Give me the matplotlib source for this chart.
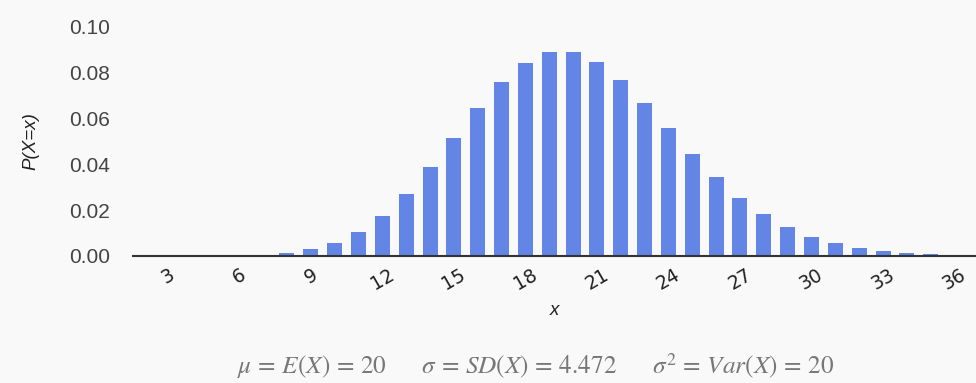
import matplotlib
matplotlib.use("Agg")
import matplotlib.pyplot as plt

# values (x, P(X=x))
x_values = list(range(1, 37))
probabilities = [
    0.0000, 0.0000, 0.0000, 0.0000, 0.0001, 0.0002, 0.0005, 0.0013, 0.0029, 0.0058,
    0.0106, 0.0176, 0.0271, 0.0387, 0.0516, 0.0646, 0.0760, 0.0844, 0.0888, 0.0888,
    0.0846, 0.0769, 0.0669, 0.0557, 0.0446, 0.0343, 0.0254, 0.0181, 0.0125, 0.0083,
    0.0054, 0.0034, 0.0020, 0.0012, 0.0007, 0.0004,
]
x_ticks = [3, 6, 9, 12, 15, 18, 21, 24, 27, 30, 33, 36]
y_ticks = [0.00, 0.02, 0.04, 0.06, 0.08, 0.10]
summary = (r"$\mu\,=\,E(X)\,=\,20\qquad\sigma\,=\,SD(X)\,=\,4.472"
           r"\qquad\sigma^2\,=\,Var(X)\,=\,20$")

bg = "#f9f9f9"
bar_color = "#6285e6"

plt.rcParams["mathtext.fontset"] = "stix"

fig = plt.figure(figsize=(9.76, 3.83), dpi=100, facecolor=bg)
ax = fig.add_axes([0.136, 0.332, 0.864, 0.598], facecolor=bg)

ax.bar(x_values, probabilities, width=0.63, color=bar_color)

ax.set_xlim(1.53, 36.9)
ax.set_ylim(0, 0.10)
ax.set_xticks(x_ticks)
ax.set_xticklabels([str(t) for t in x_ticks], rotation=30, fontsize=13.5, color="#222222")
ax.set_yticks(y_ticks)
ax.set_yticklabels([f"{t:.2f}" for t in y_ticks], fontsize=15,
                   family="Liberation Sans", color="#444444")
ax.tick_params(axis="both", length=0, pad=7)
ax.tick_params(axis="y", pad=16.5)

for side in ["top", "right", "left"]:
    ax.spines[side].set_visible(False)
ax.spines["bottom"].set_color("#333333")
ax.spines["bottom"].set_linewidth(1.5)

ax.set_ylabel("P(X=x)", fontsize=13.5, style="italic", family="Liberation Sans",
              color="#222222", labelpad=21)
ax.set_xlabel("x", fontsize=13.5, style="italic", family="Liberation Sans",
              color="#222222", labelpad=6)

fig.text(0.549, 0.044, summary, ha="center", va="center", fontsize=18.2, color="#777777")

fig.savefig("out.png", dpi=100, facecolor=bg)
